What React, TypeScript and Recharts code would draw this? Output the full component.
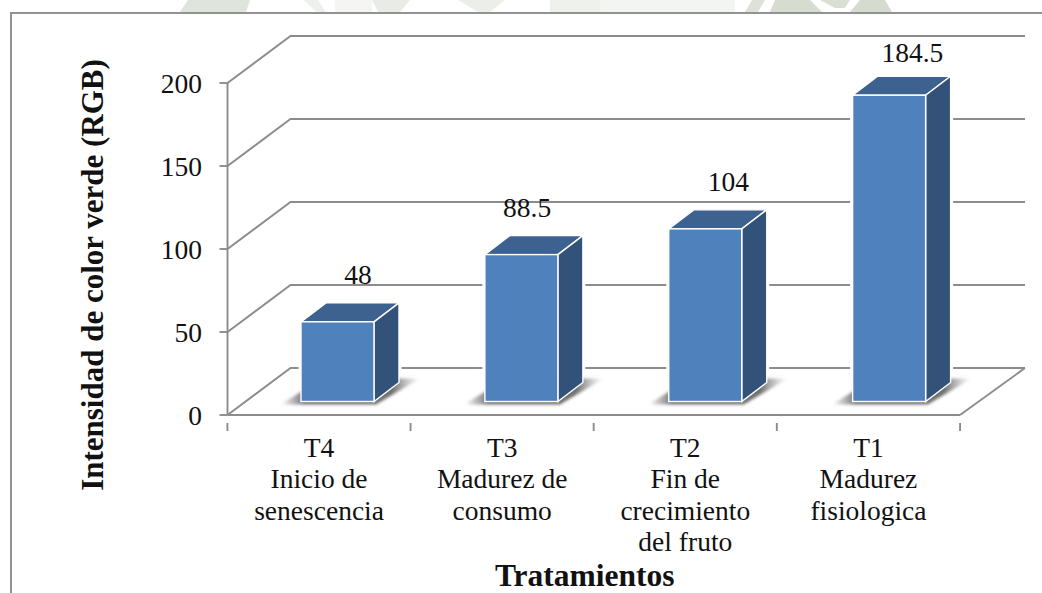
import { BarChart, Bar, XAxis, YAxis, CartesianGrid, LabelList } from "recharts";

const categorias = ["T4", "T3", "T2", "T1"];
const subtitulos = [
  ["Inicio de", "senescencia"],
  ["Madurez de", "consumo"],
  ["Fin de", "crecimiento", "del fruto"],
  ["Madurez", "fisiologica"],
];
const valores = [48, 88.5, 104, 184.5];
const ticksY = [0, 50, 100, 150, 200];

const dados = categorias.map((categoria, i) => ({
  categoria,
  valor: valores[i],
}));

// the picture is a fake 3D Excel chart
const FONTE = "'Liberation Serif', serif";
const COR_EIXO = "#8c8c8c";
const FUNDO_X = 63;
const FUNDO_Y = 47;
const BARRA_DX = 18.5;
const BARRA_PASSO = 0.75;
const BARRA_DY = 13.5;
const LADO_X = 25;
const LADO_Y = 19;
const LARGURA_FAIXA = 183.25;

// moved by hand in the original
const ajusteRotulo = [
  { dx: 1, dy: 0 },
  { dx: -13, dy: 0 },
  { dx: 5, dy: 0 },
  { dx: 6, dy: 4 },
];

// faded page watermark above the frame
const marcaDagua = [
  { pontos: "180,12 188,0 250,0 246,12", cor: "#dfe4dc" },
  { pontos: "304,0 318,0 326,12 316,12", cor: "#eef0ec" },
  { pontos: "335,0 372,0 372,12 335,12", cor: "#f5f6f4" },
  { pontos: "372,0 410,0 400,12 378,12", cor: "#e8ebe6" },
  { pontos: "458,0 505,0 490,12 478,12", cor: "#ebeee9" },
  { pontos: "550,0 600,0 600,12 550,12", cor: "#eff1ed" },
  { pontos: "600,12 600,0 735,0 735,12", cor: "#f3f5f2" },
  { pontos: "745,12 752,0 765,0 758,12", cor: "#dde2d9" },
  { pontos: "775,0 810,0 822,12 770,12", cor: "#d6ddd0" },
  { pontos: "820,0 850,0 845,8 835,8", cor: "#d9dfd3" },
  { pontos: "860,0 885,0 892,12 850,12", cor: "#d5dccf" },
];

function LinhaGrade({ x1, y1, x2 }: any) {
  const pontos = `${x1},${y1} ${x1 + FUNDO_X},${y1 - FUNDO_Y} ${x2 + 2 + FUNDO_X},${y1 - FUNDO_Y}`;
  const chao = Math.abs(y1 - 415) < 1;
  return (
    <g>
      <polyline points={pontos} fill="none" stroke={COR_EIXO} strokeWidth={1.9} />
      {chao && (
        <line
          x1={x2}
          y1={y1}
          x2={x2 + 2 + FUNDO_X}
          y2={y1 - FUNDO_Y}
          stroke={COR_EIXO}
          strokeWidth={1.9}
        />
      )}
    </g>
  );
}

function Barra3D({ x, y, width, height, index }: any) {
  const x0 = x + BARRA_DX + index * BARRA_PASSO;
  const y0 = y - BARRA_DY;
  const x1 = x0 + width;
  const y1 = y0 + height;
  const contorno = `${x0},${y1} ${x0},${y0} ${x0 + LADO_X},${y0 - LADO_Y} ${x1 + LADO_X},${y0 - LADO_Y} ${x1 + LADO_X},${y1 - LADO_Y} ${x1},${y1}`;
  return (
    <g>
      <polygon points={contorno} fill="#ffffff" stroke="#ffffff" strokeWidth={5} />
      <polygon
        points={`${x0 - 21},${y1 + 3} ${x1 + 2},${y1 + 3} ${x1 + 46},${y1 - 23} ${x0 + 22},${y1 - 23}`}
        fill="url(#sombra)"
        filter="url(#borrar)"
      />
      <polygon
        points={`${x0},${y0} ${x0 + LADO_X},${y0 - LADO_Y} ${x1 + LADO_X},${y0 - LADO_Y} ${x1},${y0}`}
        fill="#3d6290"
        stroke="#ffffff"
        strokeWidth={1.4}
      />
      <polygon
        points={`${x1},${y0} ${x1 + LADO_X},${y0 - LADO_Y} ${x1 + LADO_X},${y1 - LADO_Y} ${x1},${y1}`}
        fill="#325279"
        stroke="#ffffff"
        strokeWidth={1.4}
      />
      <rect x={x0} y={y0} width={width} height={height} fill="#4f81bd" stroke="#ffffff" strokeWidth={1.4} />
    </g>
  );
}

function RotuloValor({ x, y, width, value, index }: any) {
  const ajuste = ajusteRotulo[index];
  return (
    <text
      x={x + width / 2 + 38 + ajuste.dx}
      y={y - 14 - 37 + ajuste.dy}
      textAnchor="middle"
      fontFamily={FONTE}
      fontSize={27.5}
      fill="#111111"
    >
      {value}
    </text>
  );
}

function TickCategoria({ x, y, payload, index }: any) {
  const linhas = [payload.value, ...subtitulos[index]];
  const esquerda = x - LARGURA_FAIXA / 2;
  return (
    <g>
      <line x1={esquerda} y1={y} x2={esquerda} y2={y + 8} stroke={COR_EIXO} strokeWidth={1.9} />
      {index === categorias.length - 1 && (
        <line
          x1={esquerda + LARGURA_FAIXA}
          y1={y}
          x2={esquerda + LARGURA_FAIXA}
          y2={y + 8}
          stroke={COR_EIXO}
          strokeWidth={1.9}
        />
      )}
      {linhas.map((linha: string, i: number) => (
        <text
          key={i}
          x={x}
          y={457 + i * 31.4}
          textAnchor="middle"
          fontFamily={FONTE}
          fontSize={27.5}
          fill="#111111"
        >
          {linha}
        </text>
      ))}
    </g>
  );
}

function TickValor({ y, payload }: any) {
  return (
    <text x={202} y={y + 10} textAnchor="end" fontFamily={FONTE} fontSize={27.5} fill="#111111">
      {payload.value}
    </text>
  );
}

export default function App() {
  return (
    <div style={{ position: "absolute", left: 0, top: 0, width: 1042, height: 593, background: "#ffffff", overflow: "hidden" }}>
      <svg width={1042} height={12} style={{ position: "absolute", left: 0, top: 0 }}>
        {marcaDagua.map((m, i) => (
          <polygon key={i} points={m.pontos} fill={m.cor} />
        ))}
      </svg>
      <div
        style={{
          position: "absolute",
          left: 10,
          top: 12,
          width: 1040,
          height: 590,
          border: "2px solid #929292",
        }}
      />
      <div style={{ position: "absolute", left: 0, top: 0 }}>
        <BarChart
          width={1042}
          height={593}
          data={dados}
          margin={{ top: 83, right: 82, bottom: 0, left: 0 }}
          barSize={73}
        >
          <defs>
            <linearGradient id="sombra" x1="0" y1="0" x2="1" y2="0">
              <stop offset="0%" stopColor="#777777" stopOpacity={0} />
              <stop offset="18%" stopColor="#6f6f6f" stopOpacity={1} />
              <stop offset="80%" stopColor="#6f6f6f" stopOpacity={1} />
              <stop offset="100%" stopColor="#999999" stopOpacity={0} />
            </linearGradient>
            <filter id="borrar" x="-20%" y="-20%" width="140%" height="140%">
              <feGaussianBlur stdDeviation="1.6" />
            </filter>
          </defs>
          <CartesianGrid vertical={false} horizontal={(p: any) => <LinhaGrade key={p.key ?? p.y1} {...p} />} />
          <XAxis
            dataKey="categoria"
            height={178}
            interval={0}
            tickLine={false}
            axisLine={{ stroke: COR_EIXO, strokeWidth: 1.9 }}
            tick={<TickCategoria />}
            label={{
              value: "Tratamientos",
              position: "insideBottom",
              offset: 7,
              dx: -9,
              style: { fontFamily: FONTE, fontSize: 31.5, fontWeight: 700, fill: "#111111" },
            }}
          />
          <YAxis
            domain={[0, 200]}
            ticks={ticksY}
            width={227.5}
            tickSize={8}
            tickLine={{ stroke: COR_EIXO, strokeWidth: 1.9 }}
            axisLine={{ stroke: COR_EIXO, strokeWidth: 1.9 }}
            tick={<TickValor />}
            label={{
              value: "Intensidad de color verde (RGB)",
              angle: -90,
              position: "insideLeft",
              offset: 92,
              dy: 26,
              style: { textAnchor: "middle", fontFamily: FONTE, fontSize: 31, fontWeight: 700, fill: "#111111" },
            }}
          />
          <Bar dataKey="valor" shape={<Barra3D />} isAnimationActive={false}>
            <LabelList dataKey="valor" content={<RotuloValor />} />
          </Bar>
        </BarChart>
      </div>
    </div>
  );
}
